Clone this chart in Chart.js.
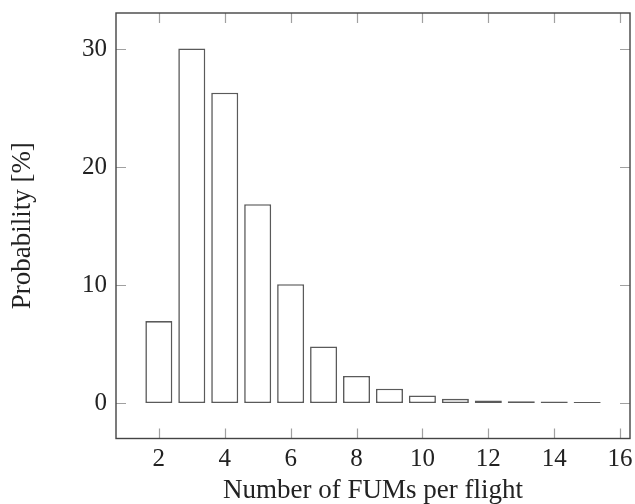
<!DOCTYPE html>
<html>
<head>
<meta charset="utf-8">
<script src="https://cdn.jsdelivr.net/npm/chart.js@4/dist/chart.umd.min.js"></script>
<style>
html,body{margin:0;padding:0;background:#fff;}
#wrap{width:635px;height:504px;}
</style>
</head>
<body>
<div id="wrap"><canvas id="c" width="635" height="504"></canvas></div>
<script>
const FUMS = [2, 3, 4, 5, 6, 7, 8, 9, 10, 11, 12, 13, 14, 15];
const PROBABILITY = [6.95, 30.05, 26.3, 16.85, 10.07, 4.8, 2.3, 1.22, 0.65, 0.36, 0.23, 0.15, 0.14, 0.1];
const X_TICKS = [2, 4, 6, 8, 10, 12, 14, 16];
const Y_TICKS = [0, 10, 20, 30];
const X_TITLE = 'Number of FUMs per flight';
const Y_TITLE = 'Probability [%]';

const FONT = "'Liberation Serif', 'DejaVu Serif', serif";

const framePlugin = {
  id: 'frame',
  afterDraw(chart) {
    const ctx = chart.ctx;
    const a = chart.chartArea;
    const xs = chart.scales.x, ys = chart.scales.y;
    const L = 10;
    ctx.save();
    ctx.strokeStyle = '#a0a0a0';
    ctx.lineWidth = 1.2;
    ctx.beginPath();
    X_TICKS.forEach(v => {
      const px = Math.round(xs.getPixelForValue(v)) + 0.5;
      ctx.moveTo(px, a.bottom); ctx.lineTo(px, a.bottom - L);
      ctx.moveTo(px, a.top); ctx.lineTo(px, a.top + L);
    });
    Y_TICKS.forEach(v => {
      const py = Math.round(ys.getPixelForValue(v)) + 0.5;
      ctx.moveTo(a.left, py); ctx.lineTo(a.left + L, py);
      ctx.moveTo(a.right, py); ctx.lineTo(a.right - L, py);
    });
    ctx.stroke();
    ctx.strokeStyle = '#444';
    ctx.lineWidth = 1.4;
    ctx.strokeRect(a.left, a.top, a.right - a.left, a.bottom - a.top);
    ctx.restore();
  }
};

new Chart(document.getElementById('c'), {
  type: 'bar',
  data: {
    datasets: [{
      data: FUMS.map((f, i) => ({x: f, y: PROBABILITY[i]})),
      backgroundColor: '#ffffff',
      borderColor: '#5a5a5a',
      borderWidth: 1.6,
      borderSkipped: false,
      barPercentage: 0.82,
      categoryPercentage: 1.0
    }]
  },
  options: {
    responsive: false,
    animation: false,
    events: [],
    layout: {padding: {left: 0, right: 5, top: 13, bottom: 0}},
    plugins: {legend: {display: false}, tooltip: {enabled: false}},
    scales: {
      x: {
        type: 'linear',
        offset: false,
        min: 0.7,
        max: 16.3,
        afterBuildTicks: s => { s.ticks = X_TICKS.map(v => ({value: v})); },
        afterFit: s => { s.height = 65.5; s.paddingLeft = 0; s.paddingRight = 0; },
        grid: {display: false, drawTicks: false, offset: false},
        border: {display: false},
        ticks: {color: '#222', padding: 6, maxRotation: 0, autoSkip: false,
                font: {family: FONT, size: 25}},
        title: {display: true, text: X_TITLE, color: '#222', padding: {top: 0, bottom: 0},
                font: {family: FONT, size: 27, lineHeight: 1.0}}
      },
      y: {
        type: 'linear',
        min: -3,
        max: 33.05,
        afterBuildTicks: s => { s.ticks = Y_TICKS.map(v => ({value: v})); },
        afterFit: s => { s.width = 116; s.paddingTop = 0; s.paddingBottom = 0; },
        grid: {display: false, drawTicks: false},
        border: {display: false},
        ticks: {color: '#222', padding: 9, font: {family: FONT, size: 25}},
        title: {display: true, text: Y_TITLE, color: '#222', padding: {top: 9, bottom: 0},
                font: {family: FONT, size: 27, lineHeight: 1.0}}
      }
    }
  },
  plugins: [framePlugin]
});
</script>
</body>
</html>
